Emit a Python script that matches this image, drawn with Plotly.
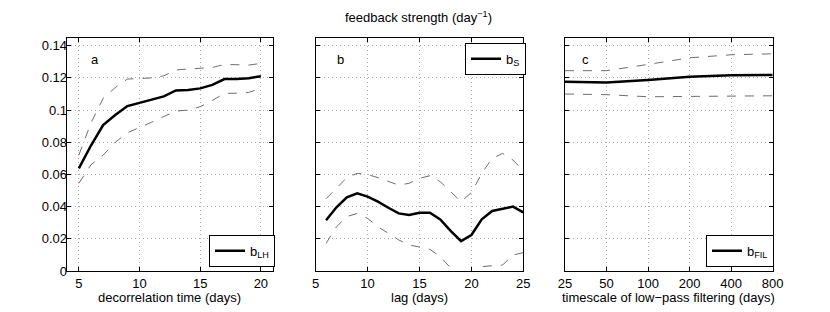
import plotly.graph_objects as go

# Panel a: decorrelation time
decorr_days = [5, 6, 7, 8, 9, 10, 11, 12, 13, 14, 15, 16, 17, 18, 19, 20]
b_lh = [0.0638, 0.078, 0.0907, 0.097, 0.1025, 0.1045, 0.1065, 0.1085, 0.1122, 0.1125, 0.1135, 0.1157, 0.1193, 0.1193, 0.1198, 0.1211]
b_lh_upper = [0.072, 0.092, 0.1073, 0.114, 0.1193, 0.1197, 0.120, 0.1213, 0.125, 0.1255, 0.126, 0.1265, 0.1284, 0.128, 0.128, 0.129]
b_lh_lower = [0.0545, 0.066, 0.072, 0.080, 0.0859, 0.089, 0.0925, 0.096, 0.0994, 0.100, 0.1021, 0.106, 0.1104, 0.1105, 0.111, 0.1135]

# Panel b: lag
lag_days = [6, 7, 8, 9, 10, 11, 12, 13, 14, 15, 16, 17, 18, 19, 20, 21, 22, 23, 24, 25]
b_s = [0.0316, 0.0396, 0.0458, 0.0483, 0.0462, 0.0431, 0.0393, 0.0358, 0.0348, 0.0362, 0.0362, 0.0321, 0.025, 0.0186, 0.0224, 0.0321, 0.0373, 0.0385, 0.040, 0.0364]
b_s_upper = [0.0449, 0.0514, 0.058, 0.0607, 0.060, 0.058, 0.0555, 0.0534, 0.0545, 0.0576, 0.0592, 0.0555, 0.0493, 0.0431, 0.0487, 0.0607, 0.070, 0.0731, 0.069, 0.0623]
b_s_lower = [0.0172, 0.0275, 0.0338, 0.0358, 0.0327, 0.0275, 0.0234, 0.0193, 0.0162, 0.0147, 0.0135, 0.0089, 0.0017, -0.005, -0.005, 0.0027, 0.0033, 0.0037, 0.0099, 0.0114]

# Panel c: low-pass filtering timescale
filt_days = [25, 50, 100, 200, 400, 800]
b_fil = [0.1176, 0.1172, 0.1187, 0.1207, 0.1216, 0.1218]
b_fil_upper = [0.1245, 0.1245, 0.1284, 0.1325, 0.1344, 0.135]
b_fil_lower = [0.110, 0.1096, 0.1083, 0.1085, 0.1089, 0.1089]

y_ticks = [0, 0.02, 0.04, 0.06, 0.08, 0.1, 0.12, 0.14]
y_tick_text = ["0", "0.02", "0.04", "0.06", "0.08", "0.1", "0.12", "0.14"]

x_titles = ["decorrelation time (days)", "lag (days)", "timescale of low\u2212pass filtering (days)"]
panel_letters = ["a", "b", "c"]

W, H = 830, 312
OFF = 8  # page body margin in the browser
FONT = "Liberation Sans, Arial, sans-serif"


def px(v):
    return (v - OFF) / W


def py(v):
    return 1 - (v - OFF) / H


fig = go.Figure()

panels = [
    ("x", "y", decorr_days, b_lh, b_lh_upper, b_lh_lower, "b<sub>LH</sub>", "legend"),
    ("x2", "y2", lag_days, b_s, b_s_upper, b_s_lower, "b<sub>S</sub>", "legend2"),
    ("x3", "y3", filt_days, b_fil, b_fil_upper, b_fil_lower, "b<sub>FIL</sub>", "legend3"),
]
for xa, ya, xs, m, up, lo, name, leg in panels:
    for band in (up, lo):
        fig.add_trace(go.Scatter(x=xs, y=band, xaxis=xa, yaxis=ya, mode="lines",
                                 line=dict(color="#6e6e6e", width=1, dash="dash"),
                                 showlegend=False, hoverinfo="skip"))
    fig.add_trace(go.Scatter(x=xs, y=m, xaxis=xa, yaxis=ya, mode="lines",
                             line=dict(color="black", width=2.5),
                             name=name, legend=leg))

dom_x = [[px(66.7), px(273)], [px(315.7), px(523.3)], [px(565), px(772.7)]]
dom_y = [py(271), py(37.7)]

axis_common = dict(showline=True, linecolor="black", linewidth=1, mirror="ticks",
                   ticks="inside", ticklen=4, tickcolor="black", automargin=False,
                   showgrid=True, gridcolor="#a8a8a8", griddash="1px,3px", gridwidth=1,
                   zeroline=False, tickfont=dict(size=13, color="black", family=FONT))

fig.update_layout(
    width=W, height=H, margin=dict(l=0, r=0, t=0, b=0, autoexpand=False),
    plot_bgcolor="white", paper_bgcolor="white",
    font=dict(family=FONT, color="black", size=13),
    xaxis=dict(domain=dom_x[0], range=[4, 21], tickvals=[5, 10, 15, 20], anchor="y", **axis_common),
    xaxis2=dict(domain=dom_x[1], range=[5, 25], tickvals=[5, 10, 15, 20, 25], anchor="y2", **axis_common),
    xaxis3=dict(domain=dom_x[2], type="log", range=[1.39794, 2.90309],
                tickvals=[25, 50, 100, 200, 400, 800], ticktext=["25", "50", "100", "200", "400", "800"],
                anchor="y3", **axis_common),
    yaxis=dict(domain=dom_y, range=[0, 0.145], tickvals=y_ticks, ticktext=y_tick_text, anchor="x",
               ticklabelstandoff=-4, **axis_common),
    yaxis2=dict(domain=dom_y, range=[0, 0.145], tickvals=y_ticks, showticklabels=False, anchor="x2", **axis_common),
    yaxis3=dict(domain=dom_y, range=[0, 0.145], tickvals=y_ticks, showticklabels=False, anchor="x3", **axis_common),
)

leg_common = dict(bgcolor="white", bordercolor="black", borderwidth=1,
                  font=dict(size=13, color="black", family=FONT), tracegroupgap=0,
                  xref="paper", yref="paper")
fig.update_layout(
    legend=dict(x=px(209), y=py(266.7), xanchor="left", yanchor="bottom", **leg_common),
    legend2=dict(x=px(465), y=py(42.7), xanchor="left", yanchor="top", **leg_common),
    legend3=dict(x=px(706), y=py(266.7), xanchor="left", yanchor="bottom", **leg_common),
)

letter_x = [95, 340, 585]
for txt, xv in zip(panel_letters, letter_x):
    fig.add_annotation(text=txt, x=px(xv), y=py(60), xref="paper", yref="paper",
                       showarrow=False, xanchor="center", yanchor="middle",
                       font=dict(size=13, color="black", family=FONT))

for txt, d in zip(x_titles, dom_x):
    fig.add_annotation(text=txt, x=(d[0] + d[1]) / 2, y=py(297), xref="paper", yref="paper",
                       showarrow=False, xanchor="center", yanchor="middle",
                       font=dict(size=13, color="black", family=FONT))

fig.add_annotation(text="feedback strength (day<sup>\u22121</sup>)", x=px(418), y=py(17),
                   xref="paper", yref="paper", showarrow=False, xanchor="center", yanchor="middle",
                   font=dict(size=13, color="black", family=FONT))

fig.write_html("out.html")
